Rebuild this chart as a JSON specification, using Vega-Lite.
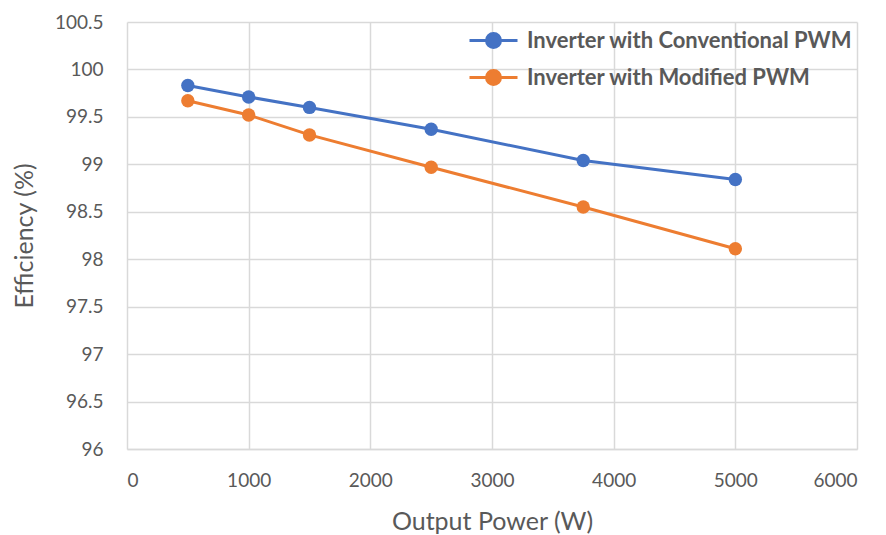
{
  "$schema": "https://vega.github.io/schema/vega-lite/v6.json",
  "width": 730,
  "height": 427,
  "autosize": "none",
  "padding": {"left": 127, "top": 22, "right": 29, "bottom": 86},
  "background": "white",
  "config": {
    "font": "Lato",
    "view": {"stroke": null}
  },
  "data": {
    "values": [
      {"power": 500, "eff": 99.83, "series": "Inverter with Conventional PWM"},
      {"power": 1000, "eff": 99.71, "series": "Inverter with Conventional PWM"},
      {"power": 1500, "eff": 99.60, "series": "Inverter with Conventional PWM"},
      {"power": 2500, "eff": 99.37, "series": "Inverter with Conventional PWM"},
      {"power": 3750, "eff": 99.04, "series": "Inverter with Conventional PWM"},
      {"power": 5000, "eff": 98.84, "series": "Inverter with Conventional PWM"},
      {"power": 500, "eff": 99.67, "series": "Inverter with Modified PWM"},
      {"power": 1000, "eff": 99.52, "series": "Inverter with Modified PWM"},
      {"power": 1500, "eff": 99.31, "series": "Inverter with Modified PWM"},
      {"power": 2500, "eff": 98.97, "series": "Inverter with Modified PWM"},
      {"power": 3750, "eff": 98.55, "series": "Inverter with Modified PWM"},
      {"power": 5000, "eff": 98.11, "series": "Inverter with Modified PWM"}
    ]
  },
  "encoding": {
    "x": {
      "field": "power", "type": "quantitative",
      "scale": {"domain": [0, 6000], "nice": false},
      "axis": {
        "title": "Output Power (W)",
        "values": [0, 1000, 2000, 3000, 4000, 5000, 6000],
        "format": "d",
        "grid": true, "gridColor": "#d9d9d9", "gridWidth": 1.5,
        "domainColor": "#d9d9d9", "domainWidth": 1.5,
        "ticks": false,
        "labelFontSize": 19, "labelColor": "#595959", "labelPadding": 22,
        "titleFontSize": 25, "titleColor": "#595959", "titleFontWeight": "normal",
        "titleY": 72, "titleBaseline": "middle"
      }
    },
    "y": {
      "field": "eff", "type": "quantitative",
      "scale": {"domain": [96, 100.5], "nice": false, "zero": false},
      "axis": {
        "title": "Efficiency (%)",
        "values": [96, 96.5, 97, 97.5, 98, 98.5, 99, 99.5, 100, 100.5],
        "format": "~g",
        "grid": true, "gridColor": "#d9d9d9", "gridWidth": 1.5,
        "domain": false, "ticks": false,
        "labelFontSize": 19, "labelColor": "#595959", "labelPadding": 24,
        "titleFontSize": 25, "titleColor": "#595959", "titleFontWeight": "normal",
        "titleX": -103, "titleBaseline": "middle"
      }
    },
    "color": {
      "field": "series", "type": "nominal",
      "scale": {"domain": ["Inverter with Conventional PWM", "Inverter with Modified PWM"], "range": ["#4472C4", "#ED7D31"]},
      "legend": {
        "title": null,
        "orient": "none",
        "legendX": 365,
        "legendY": 5,
        "padding": 0,
        "symbolType": "M-3,0H1M-1.583,0A0.583,0.583 0 1,1 -0.417,0A0.583,0.583 0 1,1 -1.583,0Z",
        "symbolSize": 576,
        "symbolStrokeWidth": 3,
        "labelFontSize": 22,
        "labelFontWeight": "bold",
        "labelColor": "#595959",
        "labelOffset": 8,
        "rowPadding": 10,
        "labelLimit": 400,
        "encode": {"symbols": {"update": {"fill": {"scale": "color", "field": "value"}, "fillOpacity": {"value": 1}}}}
      }
    }
  },
  "layer": [
    {"mark": {"type": "line", "strokeWidth": 3}},
    {"mark": {"type": "circle", "size": 180, "opacity": 1}}
  ]
}
